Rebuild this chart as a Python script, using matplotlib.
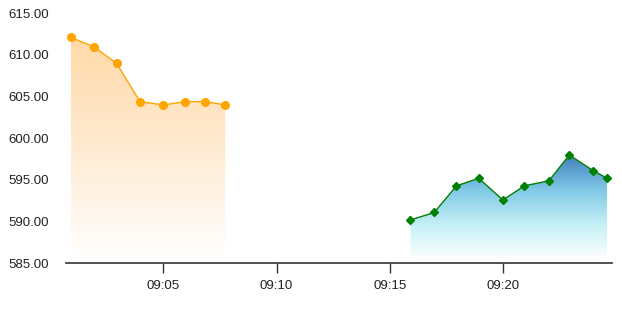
import matplotlib
matplotlib.use("Agg")
import matplotlib.pyplot as plt
import matplotlib.dates as mdates
from matplotlib.colors import LinearSegmentedColormap
import numpy as np
import pandas as pd

# first session (orange)
times_a = ["09:00:55", "09:01:55", "09:02:56", "09:03:58", "09:05:00",
           "09:05:57", "09:06:51", "09:07:44"]
values_a = [612.1, 611.0, 609.0, 604.4, 604.0, 604.4, 604.4, 604.0]

# second session (green)
times_b = ["09:15:55", "09:16:58", "09:17:57", "09:18:56", "09:20:00",
           "09:20:57", "09:22:02", "09:22:56", "09:24:00", "09:24:36"]
values_b = [590.2, 591.1, 594.3, 595.2, 592.6, 594.3, 594.9, 598.0, 596.1, 595.2]

x_start, x_end = "09:00:41", "09:24:50"
y_ticks = [585, 590, 595, 600, 605, 610, 615]
x_ticks = ["09:05", "09:10", "09:15", "09:20"]

day = "2024-01-02 "


def to_num(ts):
    return mdates.date2num(pd.to_datetime([day + t for t in ts]))


def gradient_area(ax, x, y, base, colors, zorder=1):
    cmap = LinearSegmentedColormap.from_list("g", colors)
    poly = ax.fill_between(x, y, base, color="none", lw=0, zorder=zorder)
    grad = np.linspace(0, 1, 256).reshape(-1, 1)
    img = ax.imshow(grad, cmap=cmap, aspect="auto", origin="lower",
                    extent=[x.min(), x.max(), base, max(y)], zorder=zorder)
    path = poly.get_paths()[0]
    img.set_clip_path(path, transform=ax.transData)


plt.rcParams["font.family"] = ["Liberation Sans", "DejaVu Sans"]
fig = plt.figure(figsize=(6.22, 3.10), dpi=100)
ax = fig.add_axes([0.1056, 0.1506, 0.8788, 0.8065])

xa, xb = to_num(times_a), to_num(times_b)
base = 585.4

gradient_area(ax, xa, values_a, base, ["#FFFFFF", "#FFEBD2", "#FFD9A8"])
gradient_area(ax, xb, values_b, base,
              ["#FFFFFF", "#C4F0F6", "#80C8E6", "#3F7EBE"])

ax.plot(xa, values_a, color="#FFA500", lw=1, marker="o", markersize=5.5,
        zorder=3)
ax.plot(xb, values_b, color="#008000", lw=1, marker="D", markersize=4.3,
        zorder=3)

ax.set_xlim(to_num([x_start])[0], to_num([x_end])[0])
ax.set_ylim(585, 615)

ax.set_yticks(y_ticks)
ax.set_yticklabels(["%.2f" % v for v in y_ticks])
ax.set_xticks(to_num([t + ":00" for t in x_ticks]))
ax.set_xticklabels(x_ticks)

for s in ["top", "right", "left"]:
    ax.spines[s].set_visible(False)
ax.spines["bottom"].set_color("#333333")
ax.spines["bottom"].set_linewidth(1.2)

ax.tick_params(axis="y", length=0, pad=12, labelsize=9.5, labelcolor="#222222")
ax.tick_params(axis="x", length=7, width=1, color="#333333", pad=5,
               labelsize=9.5, labelcolor="#222222")

fig.savefig("out.png", dpi=100)
